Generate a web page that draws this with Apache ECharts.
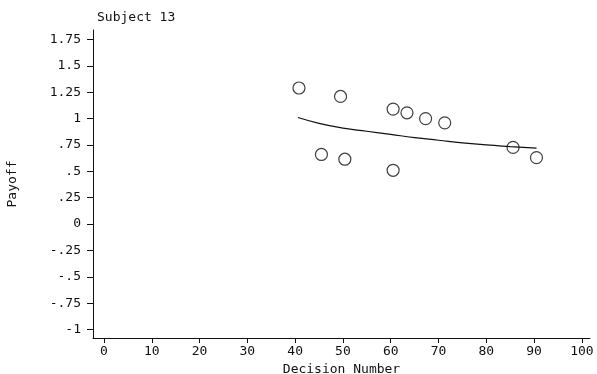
<!DOCTYPE html>
<html><head><meta charset="utf-8">
<script src="https://cdn.jsdelivr.net/npm/echarts@6/dist/echarts.min.js"></script>
<style>html,body{margin:0;padding:0;background:#fff}#c{width:597px;height:374px}</style>
</head><body><div id="c"></div>
<script>
const decisionX = [40.8, 49.5, 60.5, 63.4, 67.3, 71.3, 85.6, 90.5, 45.5, 50.4, 60.5];
const payoffY   = [1.29, 1.21, 1.09, 1.055, 1.0, 0.96, 0.727, 0.63, 0.66, 0.615, 0.51];
const fitX = [40.6, 45, 50, 55, 60, 65, 70, 75, 80, 85, 90.5];
const fitY = [1.01, 0.955, 0.91, 0.88, 0.85, 0.82, 0.795, 0.77, 0.75, 0.735, 0.72];
const xTicks = [0, 10, 20, 30, 40, 50, 60, 70, 80, 90, 100];
const yTicks = [-1, -0.75, -0.5, -0.25, 0, 0.25, 0.5, 0.75, 1, 1.25, 1.5, 1.75];
const yTickLabels = ['-1', '-.75', '-.5', '-.25', '0', '.25', '.5', '.75', '1', '1.25', '1.5', '1.75'];

const font = '"DejaVu Sans Mono", "Liberation Mono", monospace';
const chart = echarts.init(document.getElementById('c'));
chart.setOption({
  animation: false,
  backgroundColor: '#fff',
  title: {
    text: 'Subject 13', left: 92, top: 6,
    textStyle: {fontFamily: font, fontSize: 13, fontWeight: 'normal', color: '#111'}
  },
  grid: {left: 93, right: 7, top: 30, bottom: 36, containLabel: false, outerBoundsMode: 'none'},
  xAxis: {
    type: 'value', min: -2.3, max: 101.7,
    name: 'Decision Number', nameLocation: 'middle', nameGap: 19,
    nameTextStyle: {fontFamily: font, fontSize: 13, color: '#111'},
    axisLine: {onZero: false, lineStyle: {color: '#111', width: 1}},
    axisTick: {customValues: xTicks, length: 5, lineStyle: {color: '#111'}},
    axisLabel: {customValues: xTicks, fontFamily: font, fontSize: 13, color: '#111', margin: 7},
    splitLine: {show: false}
  },
  yAxis: {
    type: 'value', min: -1.08, max: 1.84,
    name: 'Payoff', nameLocation: 'middle', nameGap: 74, nameRotate: 90,
    nameTextStyle: {fontFamily: font, fontSize: 13, color: '#111'},
    axisLine: {show: true, onZero: false, lineStyle: {color: '#111', width: 1}},
    axisTick: {show: true, customValues: yTicks, length: 6, lineStyle: {color: '#111'}},
    axisLabel: {customValues: yTicks, fontFamily: font, fontSize: 13, color: '#111', margin: 12,
      formatter: v => { const i = yTicks.findIndex(t => Math.abs(t - v) < 1e-6); return i >= 0 ? yTickLabels[i] : ''; }},
    splitLine: {show: false}
  },
  series: [
    {
      type: 'line', data: fitX.map((x, i) => [x, fitY[i]]),
      smooth: true, showSymbol: false, symbol: 'none',
      lineStyle: {color: '#111', width: 1.2}
    },
    {
      type: 'scatter', data: decisionX.map((x, i) => [x, payoffY[i]]),
      symbol: 'circle', symbolSize: 12,
      itemStyle: {color: 'rgba(255,255,255,0)', borderColor: '#111', borderWidth: 1.2}
    }
  ]
});
</script></body></html>
